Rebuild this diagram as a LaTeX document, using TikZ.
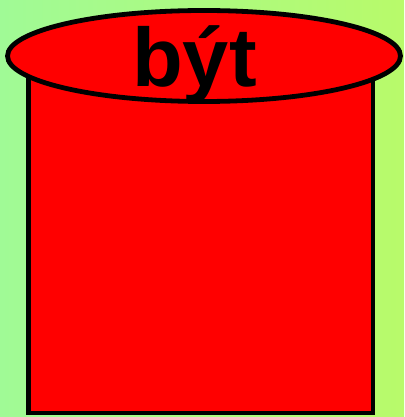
\documentclass[tikz,border=0pt]{standalone}
\usepackage{fontspec}
\setmainfont{Liberation Sans}
\definecolor{bgleft}{RGB}{160,250,150}
\definecolor{bgright}{RGB}{184,250,106}
\definecolor{cylred}{RGB}{255,0,0}
\tikzset{cylpart/.style={fill=cylred,draw=black,line width=4.8pt}}
\begin{document}
\begin{tikzpicture}[x=1pt,y=1pt]
\shade[left color=bgleft,right color=bgright] (0,0) rectangle (404,-417);
\useasboundingbox (0,0) rectangle (404,-417);
\draw[cylpart] (28.5,-70) rectangle (373,-413);
\draw[cylpart] (204,-56) ellipse [x radius=196.5,y radius=45.5];
\node[anchor=base,inner sep=0pt,font=\fontsize{83}{90}\selectfont\bfseries] (word) at (194.5,-87) {být};
\end{tikzpicture}
\end{document}
